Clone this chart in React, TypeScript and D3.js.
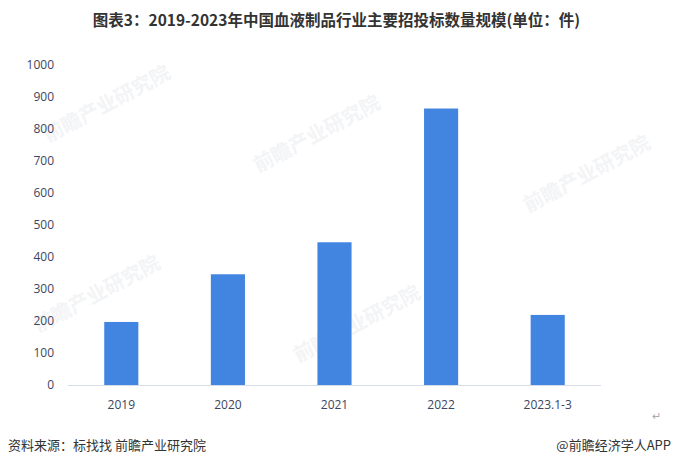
import React from "react";
import * as d3 from "d3";

const categories = ["2019", "2020", "2021", "2022", "2023.1-3"];
const values = [197, 346, 446, 864, 219];
const yTicks = [0, 100, 200, 300, 400, 500, 600, 700, 800, 900, 1000];

const W = 673;
const H = 468;
const margin = { left: 68, right: 72, top: 65, bottom: 83 };

export default function App() {
  const x = d3
    .scaleBand<string>()
    .domain(categories)
    .range([margin.left, W - margin.right])
    .paddingInner(0.68)
    .paddingOuter(0.34);
  const y = d3
    .scaleLinear()
    .domain([0, 1000])
    .range([H - margin.bottom, margin.top]);
  const font = "'Open Sans', 'Noto Sans', sans-serif";
  const cjk = "'Noto Sans CJK SC', sans-serif";
  const watermarks = [
    { x: 110, y: 110 },
    { x: 320, y: 140 },
    { x: 590, y: 180 },
    { x: 100, y: 300 },
    { x: 360, y: 330 },
  ];
  return (
    <svg
      width={W}
      height={H}
      style={{ position: "absolute", left: 0, top: 0, background: "#fff" }}
    >
      {watermarks.map((w, i) => (
        <text
          key={i}
          transform={`translate(${w.x},${w.y}) rotate(-28)`}
          fontFamily={cjk}
          fontSize={20}
          fontWeight={700}
          fill="#f3f4f6"
          textAnchor="middle"
        >
          前瞻产业研究院
        </text>
      ))}
      <text
        x={W / 2}
        y={26}
        textAnchor="middle"
        fontFamily={cjk}
        fontWeight={700}
        fontSize={15.5}
        fill="#333"
      >
        图表3：2019-2023年中国血液制品行业主要招投标数量规模(单位：件)
      </text>
      {yTicks.map((t) => (
        <text
          key={t}
          x={54}
          y={y(t)}
          dy="0.35em"
          textAnchor="end"
          fontFamily={font}
          fontSize={12}
          fill="#3c4660"
        >
          {t}
        </text>
      ))}
      <line
        x1={margin.left}
        x2={W - margin.right}
        y1={y(0) + 0.5}
        y2={y(0) + 0.5}
        stroke="#d6dce8"
        strokeWidth={1}
      />
      {categories.map((c, i) => (
        <rect
          key={c}
          x={x(c)}
          y={y(values[i])}
          width={x.bandwidth()}
          height={y(0) - y(values[i])}
          fill="#4285e0"
        />
      ))}
      {categories.map((c) => (
        <text
          key={c}
          x={(x(c) as number) + x.bandwidth() / 2}
          y={409}
          textAnchor="middle"
          fontFamily={font}
          fontSize={12}
          fill="#3c4660"
        >
          {c}
        </text>
      ))}
      <text x={652} y={420} fontFamily={font} fontSize={11} fill="#aaa">
        ↵
      </text>
      <text x={8} y={450} fontFamily={cjk} fontSize={13} fill="#333">
        资料来源：标找找 前瞻产业研究院
      </text>
      <text
        x={671}
        y={450}
        textAnchor="end"
        fontFamily={cjk}
        fontSize={13}
        fill="#333"
      >
        @前瞻经济学人APP
      </text>
    </svg>
  );
}
